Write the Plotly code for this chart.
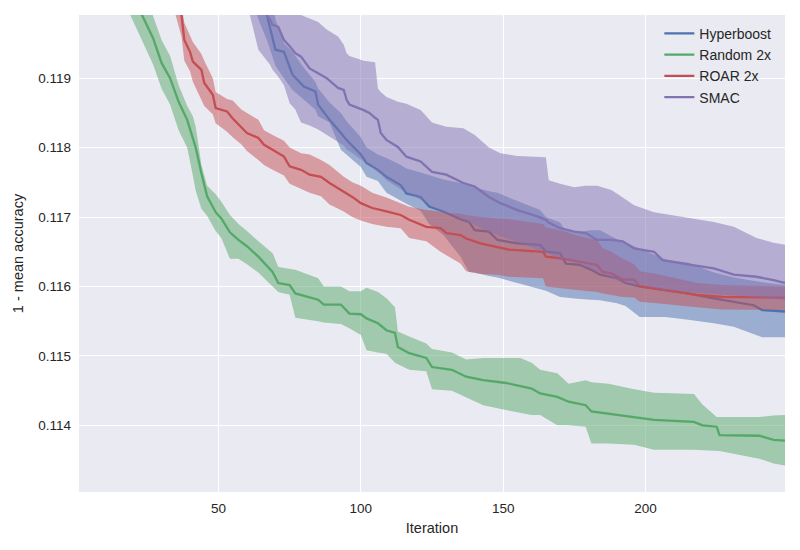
import plotly.graph_objects as go

# Hyperboost
hb_x = [60, 64, 67, 70, 73, 76, 80, 84, 85, 89, 93, 95, 100, 102, 106, 109, 114, 116, 121, 124,
        129, 135, 138, 140, 145, 148, 155, 163, 165, 170, 172, 177, 181, 184, 190, 193, 198, 207, 215, 224,
        231, 238, 241, 249]
hb_mean = [0.12100, 0.12019, 0.11991, 0.11941, 0.11938, 0.11905, 0.11888, 0.11881, 0.11862, 0.11840,
           0.11821, 0.11811, 0.11790, 0.11778, 0.11768, 0.11758, 0.11746, 0.11734, 0.11729, 0.11715,
           0.11708, 0.11697, 0.11693, 0.11681, 0.11679, 0.11667, 0.11662, 0.11660, 0.11650, 0.11648,
           0.11633, 0.11631, 0.11624, 0.11617, 0.11612, 0.11605, 0.11600, 0.11595, 0.11590, 0.11583,
           0.11578, 0.11573, 0.11566, 0.11564]
hb_hi = [0.12170, 0.12100, 0.12060, 0.11985, 0.11950, 0.11938, 0.11915, 0.11895, 0.11885, 0.11865,
         0.11850, 0.11838, 0.11815, 0.11800, 0.11790, 0.11785, 0.11775, 0.11770, 0.11764, 0.11760,
         0.11754, 0.11749, 0.11745, 0.11743, 0.11737, 0.11735, 0.11723, 0.11710, 0.11700, 0.11692,
         0.11680, 0.11679, 0.11681, 0.11681, 0.11668, 0.11663, 0.11655, 0.11639, 0.11634, 0.11620,
         0.11613, 0.11608, 0.11606, 0.11602]
hb_lo = [0.12040, 0.11985, 0.11955, 0.11918, 0.11900, 0.11883, 0.11869, 0.11855, 0.11845, 0.11836,
         0.11797, 0.11790, 0.11772, 0.11758, 0.11752, 0.11735, 0.11723, 0.11719, 0.11709, 0.11690,
         0.11674, 0.11643, 0.11621, 0.11620, 0.11615, 0.11613, 0.11605, 0.11597, 0.11594, 0.11585,
         0.11584, 0.11582, 0.11581, 0.11580, 0.11576, 0.11572, 0.11556, 0.11556, 0.11552, 0.11547,
         0.11542, 0.11531, 0.11527, 0.11527]

# Random 2x
rnd_x = [18, 23, 27, 30, 33, 36, 39, 41, 42, 44, 46, 49, 51, 54, 57, 60, 64, 69, 71, 75,
         77, 85, 87, 93, 96, 100, 102, 106, 109, 112, 113, 117, 123, 125, 132, 137, 143, 151, 156, 160,
         163, 169, 173, 179, 181, 187, 196, 203, 217, 220, 225, 226, 240, 245, 249]
rnd_mean = [0.12040, 0.11992, 0.11958, 0.11922, 0.11900, 0.11866, 0.11840, 0.11815, 0.11800, 0.11763,
            0.11730, 0.11707, 0.11698, 0.11678, 0.11667, 0.11658, 0.11643, 0.11621, 0.11605, 0.11602,
            0.11590, 0.11581, 0.11574, 0.11574, 0.11561, 0.11560, 0.11554, 0.11547, 0.11537, 0.11533,
            0.11513, 0.11504, 0.11497, 0.11484, 0.11480, 0.11470, 0.11465, 0.11461, 0.11456, 0.11453,
            0.11446, 0.11441, 0.11434, 0.11429, 0.11420, 0.11417, 0.11412, 0.11408, 0.11405, 0.11400,
            0.11398, 0.11386, 0.11385, 0.11379, 0.11378]
rnd_hi = [0.12075, 0.12025, 0.11990, 0.11955, 0.11932, 0.11890, 0.11860, 0.11845, 0.11830, 0.11775,
          0.11745, 0.11733, 0.11722, 0.11703, 0.11690, 0.11680, 0.11665, 0.11648, 0.11628, 0.11625,
          0.11624, 0.11612, 0.11600, 0.11600, 0.11593, 0.11593, 0.11598, 0.11592, 0.11583, 0.11570,
          0.11535, 0.11528, 0.11518, 0.11510, 0.11505, 0.11495, 0.11497, 0.11497, 0.11497, 0.11490,
          0.11480, 0.11475, 0.11460, 0.11465, 0.11462, 0.11460, 0.11452, 0.11447, 0.11445, 0.11430,
          0.11412, 0.11412, 0.11412, 0.11414, 0.11415]
rnd_lo = [0.12000, 0.11955, 0.11920, 0.11885, 0.11862, 0.11825, 0.11800, 0.11760, 0.11738, 0.11712,
          0.11702, 0.11680, 0.11670, 0.11640, 0.11640, 0.11632, 0.11620, 0.11600, 0.11592, 0.11588,
          0.11555, 0.11550, 0.11548, 0.11546, 0.11540, 0.11530, 0.11508, 0.11505, 0.11503, 0.11490,
          0.11488, 0.11480, 0.11478, 0.11452, 0.11450, 0.11440, 0.11429, 0.11422, 0.11418, 0.11415,
          0.11415, 0.11400, 0.11400, 0.11398, 0.11374, 0.11374, 0.11372, 0.11365, 0.11365, 0.11364,
          0.11363, 0.11363, 0.11352, 0.11345, 0.11342]

# ROAR 2x
roar_x = [33, 37, 38, 40, 41, 44, 45, 48, 49, 53, 55, 58, 60, 64, 66, 69, 73, 75, 79, 82,
          86, 89, 94, 97, 100, 104, 109, 114, 117, 123, 128, 130, 135, 137, 142, 148, 152, 164, 165, 171,
          177, 183, 185, 188, 192, 196, 198, 204, 210, 218, 227, 249]
roar_mean = [0.12050, 0.11991, 0.11955, 0.11938, 0.11924, 0.11912, 0.11893, 0.11876, 0.11857, 0.11852,
             0.11842, 0.11830, 0.11821, 0.11814, 0.11804, 0.11797, 0.11787, 0.11773, 0.11768, 0.11761,
             0.11758, 0.11749, 0.11737, 0.11729, 0.11720, 0.11713, 0.11708, 0.11703, 0.11696, 0.11686,
             0.11684, 0.11677, 0.11674, 0.11669, 0.11662, 0.11657, 0.11653, 0.11650, 0.11643, 0.11640,
             0.11636, 0.11631, 0.11621, 0.11619, 0.11610, 0.11610, 0.11600, 0.11597, 0.11593, 0.11588,
             0.11585, 0.11584]
roar_hi = [0.12070, 0.12005, 0.11980, 0.11962, 0.11952, 0.11935, 0.11925, 0.11900, 0.11880, 0.11870,
           0.11868, 0.11855, 0.11850, 0.11840, 0.11825, 0.11818, 0.11810, 0.11800, 0.11792, 0.11790,
           0.11782, 0.11775, 0.11758, 0.11750, 0.11745, 0.11735, 0.11728, 0.11720, 0.11715, 0.11710,
           0.11708, 0.11706, 0.11705, 0.11703, 0.11700, 0.11698, 0.11697, 0.11690, 0.11685, 0.11680,
           0.11672, 0.11667, 0.11655, 0.11650, 0.11640, 0.11632, 0.11622, 0.11618, 0.11612, 0.11605,
           0.11602, 0.11600]
roar_lo = [0.12020, 0.11960, 0.11925, 0.11910, 0.11895, 0.11870, 0.11860, 0.11848, 0.11835, 0.11823,
           0.11815, 0.11805, 0.11795, 0.11782, 0.11775, 0.11768, 0.11760, 0.11748, 0.11740, 0.11735,
           0.11730, 0.11718, 0.11708, 0.11700, 0.11695, 0.11690, 0.11686, 0.11684, 0.11670, 0.11665,
           0.11650, 0.11645, 0.11633, 0.11622, 0.11618, 0.11617, 0.11614, 0.11612, 0.11600, 0.11597,
           0.11595, 0.11592, 0.11590, 0.11588, 0.11585, 0.11584, 0.11578, 0.11576, 0.11573, 0.11570,
           0.11567, 0.11566]

# SMAC
smac_x = [60, 64, 68, 69, 71, 73, 75, 77, 79, 82, 85, 88, 92, 94, 95, 96, 101, 103, 105, 106,
          107, 109, 113, 116, 121, 125, 130, 136, 140, 145, 149, 155, 162, 165, 166, 170, 175, 179, 183, 188,
          192, 196, 203, 206, 216, 224, 231, 239, 245, 249]
smac_mean = [0.12043, 0.12008, 0.11985, 0.11977, 0.11974, 0.11955, 0.11946, 0.11936, 0.11931, 0.11914,
             0.11907, 0.11900, 0.11886, 0.11883, 0.11869, 0.11862, 0.11854, 0.11850, 0.11843, 0.11840,
             0.11821, 0.11811, 0.11801, 0.11787, 0.11780, 0.11765, 0.11761, 0.11749, 0.11744, 0.11729,
             0.11720, 0.11710, 0.11701, 0.11696, 0.11692, 0.11684, 0.11679, 0.11677, 0.11667, 0.11667,
             0.11665, 0.11655, 0.11650, 0.11638, 0.11631, 0.11626, 0.11617, 0.11614, 0.11609, 0.11605]
smac_hi = [0.12130, 0.12078, 0.12065, 0.12050, 0.12027, 0.12020, 0.12013, 0.12000, 0.11991, 0.11986,
           0.11981, 0.11970, 0.11960, 0.11948, 0.11936, 0.11932, 0.11925, 0.11924, 0.11923, 0.11885,
           0.11880, 0.11873, 0.11866, 0.11863, 0.11854, 0.11836, 0.11830, 0.11828, 0.11818, 0.11800,
           0.11792, 0.11788, 0.11787, 0.11786, 0.11753, 0.11748, 0.11743, 0.11745, 0.11745, 0.11739,
           0.11728, 0.11717, 0.11707, 0.11705, 0.11699, 0.11693, 0.11686, 0.11670, 0.11663, 0.11660]
smac_lo = [0.12008, 0.11941, 0.11920, 0.11912, 0.11902, 0.11890, 0.11864, 0.11855, 0.11836, 0.11832,
           0.11826, 0.11818, 0.11808, 0.11803, 0.11797, 0.11795, 0.11780, 0.11775, 0.11768, 0.11765,
           0.11762, 0.11753, 0.11743, 0.11735, 0.11725, 0.11715, 0.11706, 0.11696, 0.11689, 0.11679,
           0.11673, 0.11663, 0.11653, 0.11648, 0.11647, 0.11640, 0.11635, 0.11628, 0.11621, 0.11612,
           0.11606, 0.11602, 0.11598, 0.11595, 0.11592, 0.11589, 0.11587, 0.11584, 0.11582, 0.11581]

y_ticks = [0.114, 0.115, 0.116, 0.117, 0.118, 0.119]
x_ticks = [50, 100, 150, 200]

series = [
    ("Hyperboost", hb_x, hb_mean, hb_hi, hb_lo, "#4C72B0", "rgba(76,114,176,0.5)"),
    ("Random 2x", rnd_x, rnd_mean, rnd_hi, rnd_lo, "#55A868", "rgba(85,168,104,0.5)"),
    ("ROAR 2x", roar_x, roar_mean, roar_hi, roar_lo, "#C44E52", "rgba(196,78,82,0.5)"),
    ("SMAC", smac_x, smac_mean, smac_hi, smac_lo, "#8172B2", "rgba(129,114,178,0.5)"),
]

fig = go.Figure()
for name, xs, mean, hi, lo, col, fillcol in series:
    # band: lower edge, then upper edge filled down to it
    fig.add_trace(go.Scatter(x=xs, y=lo, mode="lines", line=dict(width=0, color=fillcol),
                             showlegend=False, legendgroup=name, hoverinfo="skip"))
    fig.add_trace(go.Scatter(x=xs, y=hi, mode="lines", line=dict(width=0, color=fillcol),
                             fill="tonexty", fillcolor=fillcol,
                             showlegend=False, legendgroup=name, hoverinfo="skip"))
    fig.add_trace(go.Scatter(x=xs, y=mean, mode="lines", name=name, legendgroup=name,
                             line=dict(color=col, width=2.3)))

# page body has an 8px margin, so the figure is a bit smaller and shifted
font_fam = "Liberation Sans, Arial, sans-serif"
fig.update_layout(
    width=792, height=542,
    margin=dict(l=71, r=15, t=7, b=58, autoexpand=False),
    paper_bgcolor="white",
    plot_bgcolor="#EAEAF2",
    font=dict(family=font_fam, size=13.5, color="#262626"),
    legend=dict(x=0.822, y=0.994, xanchor="left", yanchor="top",
                bgcolor="rgba(0,0,0,0)", font=dict(size=14),
                tracegroupgap=0),
)
fig.update_xaxes(range=[1, 249], tickvals=x_ticks, showgrid=True, gridcolor="white",
                 gridwidth=1.3, zeroline=False, showline=False, ticks="",
                 ticklabelstandoff=6, automargin=False,
                 title=dict(text="Iteration", font=dict(size=14.5), standoff=8))
fig.update_yaxes(range=[0.11304, 0.11991], tickvals=y_ticks, tickformat=".3f",
                 showgrid=True, gridcolor="white", gridwidth=1.3, zeroline=False,
                 showline=False, ticks="", ticklabelstandoff=7, automargin=False,
                 title=dict(text="1 - mean accuracy", font=dict(size=14.5), standoff=11))

fig.write_html("out.html")
